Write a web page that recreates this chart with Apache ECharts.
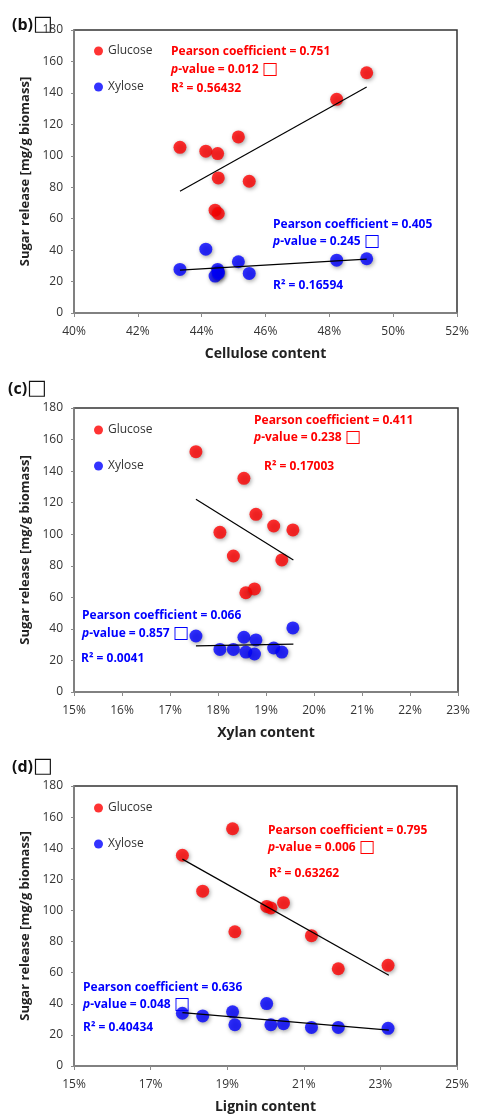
<!DOCTYPE html>
<html><head><meta charset="utf-8">
<script src="https://cdn.jsdelivr.net/npm/echarts@6/dist/echarts.min.js"></script>
<style>html,body{margin:0;padding:0;background:#fff}#c{width:478px;height:1115px}</style>
</head><body><div id="c"></div>
<script>
// ---- Panel (b): cellulose content (%) ----
const celluloseX       = [43.32, 44.13, 44.50, 45.15, 48.23, 49.17, 44.52, 45.49, 44.42, 44.52];
const celluloseGlucose = [105.4, 102.9, 101.4, 112.0, 135.9, 152.8, 85.9, 83.8, 65.4, 63.3];
const celluloseXylose  = [27.7, 40.6, 27.7, 32.6, 33.6, 34.5, 26.0, 25.2, 23.5, 25.2];
const celluloseGluFit  = [[43.32, 77.5], [49.17, 143.7]];
const celluloseXylFit  = [[43.32, 27.3], [49.17, 34.3]];
const celluloseTicks   = [40, 42, 44, 46, 48, 50, 52];

// ---- Panel (c): xylan content (%) ----
const xylanX       = [17.54, 18.54, 18.04, 18.79, 19.16, 19.56, 18.32, 19.33, 18.58, 18.76];
const xylanGlucose = [152.3, 135.4, 101.2, 112.6, 105.2, 102.7, 86.2, 83.7, 62.9, 65.3];
const xylanXylose  = [35.5, 34.7, 27.0, 33.0, 27.9, 40.6, 27.0, 25.3, 25.3, 24.1];
const xylanGluFit  = [[17.54, 122.1], [19.57, 83.7]];
const xylanXylFit  = [[17.54, 29.2], [19.57, 30.4]];
const xylanTicks   = [15, 16, 17, 18, 19, 20, 21, 22, 23];

// ---- Panel (d): lignin content (%) ----
const ligninX       = [19.14, 17.83, 18.36, 20.03, 20.14, 20.47, 19.20, 21.20, 21.90, 23.20];
const ligninGlucose = [152.5, 135.5, 112.4, 102.6, 101.6, 105.0, 86.3, 83.8, 62.5, 64.7];
const ligninXylose  = [34.8, 33.9, 32.2, 40.1, 26.5, 27.2, 26.5, 24.8, 24.8, 24.2];
const ligninGluFit  = [[17.83, 133.0], [23.22, 58.3]];
const ligninXylFit  = [[17.83, 34.3], [23.22, 23.1]];
const ligninTicks   = [15, 17, 19, 21, 23, 25];

const yTicks = [0, 20, 40, 60, 80, 100, 120, 140, 160, 180];

const panels = [
  {tag:'(b)', x:celluloseX, glu:celluloseGlucose, xyl:celluloseXylose, gfit:celluloseGluFit, xfit:celluloseXylFit, ticks:celluloseTicks, name:'Cellulose content',
   red:['Pearson coefficient = 0.751','0.012','R² = 0.56432'], blue:['Pearson coefficient = 0.405','0.245','R² = 0.16594']},
  {tag:'(c)', x:xylanX, glu:xylanGlucose, xyl:xylanXylose, gfit:xylanGluFit, xfit:xylanXylFit, ticks:xylanTicks, name:'Xylan content',
   red:['Pearson coefficient = 0.411','0.238','R² = 0.17003'], blue:['Pearson coefficient = 0.066','0.857','R² = 0.0041']},
  {tag:'(d)', x:ligninX, glu:ligninGlucose, xyl:ligninXylose, gfit:ligninGluFit, xfit:ligninXylFit, ticks:ligninTicks, name:'Lignin content',
   red:['Pearson coefficient = 0.795','0.006','R² = 0.63262'], blue:['Pearson coefficient = 0.636','0.048','R² = 0.40434']}
];

// layout (pixels)
const layout = [
  {top:30, height:283, right:21, title:[12,25], legendTop:40,
   red:[[171,52],[171,70],[171,89]], blue:[[273,225],[273,242],[273,286]]},
  {top:408, height:284, right:20, title:[8,389], legendTop:419,
   red:[[254,421],[254,438],[264,467]], blue:[[82,616],[82,634],[81,659]]},
  {top:786, height:283, right:21, title:[12,767], legendTop:797,
   red:[[268,831],[268,848],[269,874]], blue:[[83,988],[83,1005],[83,1028]]}
];

const FONT = '"Open Sans", "DejaVu Sans", sans-serif';
const RED = '#ff0000', BLUE = '#0000ff';
const grids = [], xAxes = [], yAxes = [], series = [], legends = [], graphics = [];

panels.forEach((p, i) => {
  const L = layout[i];
  const base = p.ticks[0];
  const span = p.ticks[p.ticks.length - 1] - base;
  const step = p.ticks[1] - p.ticks[0];
  grids.push({left:74, right:L.right, top:L.top, height:L.height, show:true, borderColor:'#333', borderWidth:1.5, backgroundColor:'#fff'});
  xAxes.push({
    type:'value', gridIndex:i, min:0, max:span, interval:step,
    name:p.name, nameLocation:'middle', nameGap:34,
    nameTextStyle:{fontFamily:FONT, fontWeight:'bold', fontSize:14, color:'#222'},
    axisLine:{show:true, lineStyle:{color:'#8a8a8a', width:1.5}},
    axisTick:{show:true, length:4, lineStyle:{color:'#8a8a8a'}},
    axisLabel:{margin:13, fontFamily:FONT, fontSize:12, color:'#333', formatter:v => (Math.round((v + base) * 100) / 100) + '%'},
    splitLine:{show:false}
  });
  yAxes.push({
    type:'value', gridIndex:i, min:yTicks[0], max:yTicks[yTicks.length - 1], interval:yTicks[1] - yTicks[0],
    name:'Sugar release [mg/g biomass]', nameLocation:'middle', nameGap:42,
    nameTextStyle:{fontFamily:FONT, fontWeight:'bold', fontSize:13, color:'#222'},
    axisLine:{show:true, lineStyle:{color:'#8a8a8a', width:1.5}},
    axisTick:{show:true, length:3, lineStyle:{color:'#8a8a8a'}},
    axisLabel:{margin:11, fontFamily:FONT, fontSize:12, color:'#333'},
    splitLine:{show:false}
  });
  const shadow = {shadowBlur:4, shadowColor:'rgba(0,0,0,0.45)', shadowOffsetX:1, shadowOffsetY:1.5};
  series.push({
    name:'Glucose', type:'scatter', xAxisIndex:i, yAxisIndex:i, symbolSize:13,
    itemStyle:Object.assign({color:RED}, shadow),
    data:p.x.map((x, k) => [x - base, p.glu[k]]), z:3
  });
  series.push({
    name:'Xylose', type:'scatter', xAxisIndex:i, yAxisIndex:i, symbolSize:13,
    itemStyle:Object.assign({color:BLUE}, shadow),
    data:p.x.map((x, k) => [x - base, p.xyl[k]]), z:3
  });
  [p.gfit, p.xfit].forEach(fit => series.push({
    type:'line', xAxisIndex:i, yAxisIndex:i, symbol:'none', silent:true,
    lineStyle:{color:'#000', width:1.2}, data:fit.map(d => [d[0] - base, d[1]]), z:4
  }));
  legends.push({
    data:[{name:'Glucose', icon:'circle'}, {name:'Xylose', icon:'circle'}],
    orient:'vertical', left:89, top:L.legendTop, itemWidth:9, itemHeight:9, itemGap:24,
    textStyle:{fontFamily:FONT, fontSize:12, color:'#333'}, selectedMode:false
  });
  graphics.push({type:'text', x:L.title[0], y:L.title[1], style:{
    text:p.tag + '{b|□}', font:'bold 16px ' + FONT, fill:'#111', verticalAlign:'middle',
    rich:{b:{fontSize:21, fontWeight:'bold', fontFamily:'"DejaVu Sans"', fill:'#111'}}}});
  [[p.red, L.red, RED], [p.blue, L.blue, BLUE]].forEach(([txt, pos, col]) => {
    graphics.push({type:'text', x:pos[0][0], y:pos[0][1], z:10, style:{text:txt[0], font:'bold 12px ' + FONT, fill:col, verticalAlign:'middle'}});
    graphics.push({type:'text', x:pos[1][0], y:pos[1][1], z:10, style:{
      text:'{i|p}-value = ' + txt[1] + ' {b|□}', font:'bold 12px ' + FONT, fill:col, verticalAlign:'middle',
      rich:{i:{fontStyle:'italic', fontWeight:'bold', fontSize:12, fontFamily:FONT, fill:col},
            b:{fontSize:17, fontWeight:'bold', fontFamily:'"DejaVu Sans"', fill:col}}}});
    graphics.push({type:'text', x:pos[2][0], y:pos[2][1], z:10, style:{text:txt[2], font:'bold 12px ' + FONT, fill:col, verticalAlign:'middle'}});
  });
});

const chart = echarts.init(document.getElementById('c'), null, {renderer:'canvas'});
chart.setOption({
  animation:false, backgroundColor:'#fff',
  grid:grids, xAxis:xAxes, yAxis:yAxes, series:series, legend:legends, graphic:graphics
});
</script></body></html>
